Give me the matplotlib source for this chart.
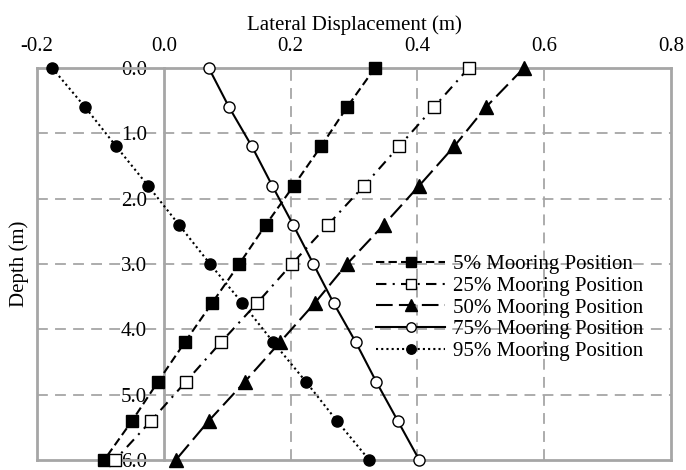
import numpy as np
import matplotlib
matplotlib.use('Agg')
import matplotlib.pyplot as plt

plt.rcParams['font.family'] = 'Liberation Serif'
plt.rcParams['font.size'] = 15

# depth below surface (m)
depth = [0.0, 0.6, 1.2, 1.8, 2.4, 3.0, 3.6, 4.2, 4.8, 5.4, 6.0]

# lateral displacement (m) for each mooring position
disp_5 = [0.333, 0.289, 0.248, 0.205, 0.161, 0.119, 0.076, 0.033, -0.009, -0.050, -0.094]
disp_25 = [0.481, 0.426, 0.371, 0.316, 0.259, 0.202, 0.147, 0.090, 0.035, -0.020, -0.077]
disp_50 = [0.568, 0.508, 0.458, 0.403, 0.347, 0.289, 0.238, 0.183, 0.128, 0.071, 0.019]
disp_75 = [0.071, 0.103, 0.139, 0.171, 0.204, 0.236, 0.268, 0.303, 0.335, 0.369, 0.403]
disp_95 = [-0.176, -0.124, -0.075, -0.025, 0.024, 0.073, 0.124, 0.173, 0.224, 0.273, 0.324]

labels = ['5% Mooring Position', '25% Mooring Position', '50% Mooring Position',
          '75% Mooring Position', '95% Mooring Position']

fig = plt.figure(figsize=(6.86, 4.70), dpi=100)
ax = fig.add_axes([0.0539, 0.0213, 0.9242, 0.834])

gc = '#a6a6a6'
ax.set_xlim(-0.2, 0.8)
ax.set_ylim(6.0, 0.0)
ax.set_xticks(np.arange(-0.2, 0.81, 0.2))
ax.set_xticklabels(['-0.2', '0.0', '0.2', '0.4', '0.6', '0.8'])
ax.set_yticks(np.arange(0, 6.01, 1.0))
ax.set_yticklabels(['0.0', '1.0', '2.0', '3.0', '4.0', '5.0', '6.0'])

# grid lines
for yv in [1, 2, 3, 4, 5]:
    ax.axhline(yv, color=gc, lw=1.3, ls=(0, (6, 4)), zorder=1)
for xv in [0.2, 0.4, 0.6]:
    ax.axvline(xv, color=gc, lw=1.3, ls=(0, (6, 4)), zorder=1)

# y axis sits at x = 0, outer box drawn separately
for s in ax.spines.values():
    s.set_color(gc)
    s.set_linewidth(2)
ax.spines['left'].set_position(('data', 0))
ax.axvline(-0.2, color=gc, lw=2, clip_on=False, zorder=1)

ax.xaxis.tick_top()
ax.xaxis.set_label_position('top')
ax.tick_params(axis='x', length=0, pad=9)
ax.tick_params(axis='y', length=0, pad=12)

kw = dict(color='black', lw=1.5, clip_on=False, zorder=3)
ax.plot(disp_5, depth, ls=(0, (4, 2)), marker='s', ms=8, mfc='black', label=labels[0], **kw)
ax.plot(disp_25, depth, ls=(0, (5, 3, 1, 3)), marker='s', ms=8, mfc='white', label=labels[1], **kw)
ax.plot(disp_50, depth, ls=(0, (8, 3)), marker='^', ms=10, mfc='black', label=labels[2], **kw)
ax.plot(disp_75, depth, ls='-', marker='o', ms=8, mfc='white', label=labels[3], **kw)
ax.plot(disp_95, depth, ls=(0, (1, 1.5)), marker='o', ms=8, mfc='black', label=labels[4], **kw)

ax.set_xlabel('Lateral Displacement (m)', labelpad=5)
ax.set_ylabel('Depth (m)')
ax.yaxis.set_label_coords(-0.013, 0.5)

ax.legend(loc='upper left', bbox_to_anchor=(0.535, 0.524), frameon=False,
          borderpad=0, borderaxespad=0, handlelength=3.3, handletextpad=0.4,
          labelspacing=0.1, markerscale=0.85)

fig.savefig('out.png', dpi=100)
